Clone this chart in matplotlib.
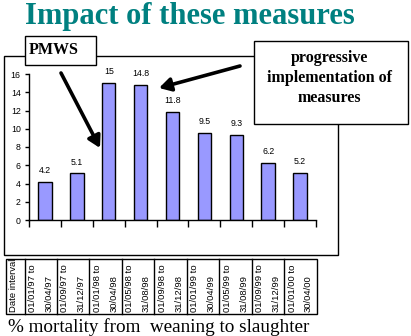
import matplotlib
matplotlib.use("Agg")
import matplotlib.pyplot as plt
from matplotlib.patches import Rectangle, FancyArrowPatch
from matplotlib.transforms import Bbox, TransformedBbox

# ---- data ----
periods_start = ["01/01/97", "01/09/97", "01/01/98", "01/05/98", "01/09/98",
                 "01/01/99", "01/05/99", "01/09/99", "01/01/00"]
periods_end = ["30/04/97", "31/12/97", "30/04/98", "31/08/98", "31/12/98",
               "30/04/99", "31/08/99", "31/12/99", "30/04/00"]
mortality = [4.2, 5.1, 15, 14.8, 11.8, 9.5, 9.3, 6.2, 5.2]
yticks = [0, 2, 4, 6, 8, 10, 12, 14, 16]
title = "Impact of these measures"
caption = "% mortality from  weaning to slaughter"
table_header = "Date interval"
note_pmws = "PMWS"
note_measures = "progressive\nimplementation of\nmeasures"

W, H = 411, 336
DPI = 100
fig = plt.figure(figsize=(W / DPI, H / DPI), dpi=DPI)
fig.patch.set_facecolor("white")

SANS = ["Liberation Sans", "DejaVu Sans"]
SERIF = ["Liberation Serif", "DejaVu Serif"]

# background overlay in pixel coords
ax0 = fig.add_axes([0, 0, 1, 1], zorder=0)
ax0.set_xlim(0, W)
ax0.set_ylim(H, 0)
ax0.axis("off")

# outer chart border
ax0.add_patch(Rectangle((3.5, 55.5), 334.5, 199.5, fill=False, ec="black", lw=1))

# title
ax0.text(25, 24, title, family=SERIF, weight="bold", fontsize=22,
         color="#008080", ha="left", va="baseline")

# caption
ax0.text(8, 332, caption, family=SERIF, fontsize=13.8, color="black",
         ha="left", va="baseline")

# data table
tx0, tx1, ty0, ty1 = 5.5, 316.5, 258.5, 313.5
hdr_w = 24.5
ax0.add_patch(Rectangle((tx0, ty0), tx1 - tx0, ty1 - ty0, fill=False, ec="black", lw=1))
n = len(mortality)
colw = (tx1 - hdr_w) / n
ax0.plot([hdr_w, hdr_w], [ty0, ty1], color="black", lw=1)
for k in range(1, n):
    x = hdr_w + k * colw
    ax0.plot([x, x], [ty0, ty1], color="black", lw=1)
t = ax0.text(13, 312, table_header, family=SANS, fontsize=6.8, rotation=90,
             ha="center", va="bottom")
t.set_clip_box(TransformedBbox(Bbox([[tx0, ty0], [hdr_w, ty1]]), ax0.transData))
for k in range(n):
    left = hdr_w + k * colw
    ax0.text(left + 8, 312, periods_start[k] + " to", family=SANS, fontsize=6.8,
             rotation=90, ha="center", va="bottom")
    ax0.text(left + 24.5, 312, periods_end[k], family=SANS, fontsize=6.8,
             rotation=90, ha="center", va="bottom")

# bar axes
ax_l, ax_r, ax_t, ax_b = 29, 316, 74, 220
ax = fig.add_axes([ax_l / W, (H - ax_b) / H, (ax_r - ax_l) / W, (ax_b - ax_t) / H], zorder=1)
ax.patch.set_alpha(0)
xs = [i + 0.5 for i in range(n)]
bars = ax.bar(xs, mortality, width=0.42, color="#9999FF", edgecolor="black", linewidth=1)
ax.set_xlim(0, n)
ax.set_ylim(0, 16)
ax.set_yticks(yticks)
ax.set_yticklabels([str(v) for v in yticks], family=SANS, fontsize=6.3)
ax.set_xticks(range(n + 1))
ax.set_xticklabels([])
ax.tick_params(axis="y", direction="out", length=3, width=1, pad=3)
ax.tick_params(axis="x", direction="out", length=5, width=1)
for s in ("top", "right"):
    ax.spines[s].set_visible(False)
for s in ("left", "bottom"):
    ax.spines[s].set_linewidth(1)
for xv, v in zip(xs, mortality):
    ax.annotate(f"{v:g}", (xv, v), xytext=(0, 5), textcoords="offset points",
                ha="center", va="bottom", family=SANS, fontsize=6.3)

# foreground overlay: callout boxes and arrows
ax2 = fig.add_axes([0, 0, 1, 1], zorder=2)
ax2.set_xlim(0, W)
ax2.set_ylim(H, 0)
ax2.axis("off")
ax2.patch.set_alpha(0)

ax2.add_patch(Rectangle((24.5, 35.5), 71.5, 29.5, fc="white", ec="black", lw=1))
ax2.text(29, 54, note_pmws, family=SERIF, weight="bold", fontsize=11.5,
         ha="left", va="baseline")

ax2.add_patch(Rectangle((253.5, 40.5), 154, 83, fc="white", ec="black", lw=1))
ax2.text(329, 78, note_measures, family=SERIF, weight="bold", fontsize=11.5,
         ha="center", va="center", linespacing=1.3)

for (x0, y0), (x1, y1) in [((61, 73), (100, 148)), ((240, 66), (159, 88))]:
    ax2.add_patch(FancyArrowPatch((x0, y0), (x1, y1), arrowstyle="-|>,head_length=7,head_width=4",
                                  mutation_scale=1, lw=2.6, color="black",
                                  shrinkA=0, shrinkB=0))

fig.savefig("out.png", dpi=DPI, facecolor="white")
